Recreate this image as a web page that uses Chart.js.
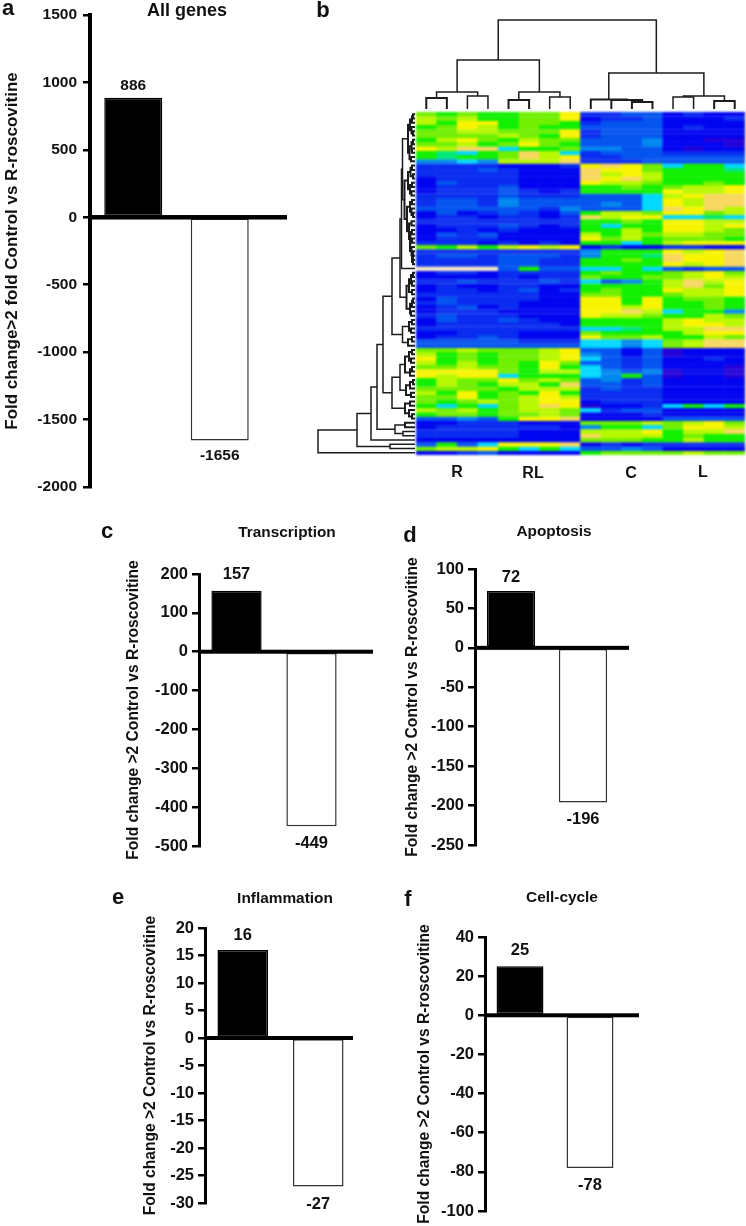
<!DOCTYPE html>
<html>
<head>
<meta charset="utf-8">
<title>Fold change panels</title>
<script src="https://cdn.jsdelivr.net/npm/chart.js@4"></script>
<style>
    html, body { margin: 0; background: #fff; }
    body { position: relative; width: 746px; height: 1226px; overflow: hidden; font-family: "Liberation Sans", Arial, sans-serif; color: #111; }
    canvas { position: absolute; filter: blur(0.4px); }
    canvas.heat { filter: blur(0.9px); }
    .txt { position: absolute; font-weight: bold; white-space: nowrap; transform: translate(-50%, -50%); filter: blur(0.3px); }
    .letter { font-size: 22px; }
    .title { font-size: 15.4px; }
    .group { font-size: 16px; }
</style>
</head>
<body>
<div class="txt letter" style="left:8px;top:8px">a</div>
<div class="txt letter" style="left:323px;top:10px">b</div>
<div class="txt letter" style="left:107px;top:531px">c</div>
<div class="txt letter" style="left:410px;top:535px">d</div>
<div class="txt letter" style="left:118px;top:897px">e</div>
<div class="txt letter" style="left:408px;top:899px">f</div>
<div class="txt title" style="left:187px;top:10px;font-size:18px">All genes</div>
<div class="txt title" style="left:287px;top:532px">Transcription</div>
<div class="txt title" style="left:554px;top:531px">Apoptosis</div>
<div class="txt title" style="left:285px;top:898px">Inflammation</div>
<div class="txt title" style="left:562px;top:897px">Cell-cycle</div>
<div class="txt group" style="left:457px;top:472px">R</div>
<div class="txt group" style="left:533px;top:473px">RL</div>
<div class="txt group" style="left:631px;top:473px">C</div>
<div class="txt group" style="left:703px;top:472px">L</div>

<script>
const directions = ["Up", "Down"];
const allGenes = [886, -1656];
const transcription = [157, -449];
const apoptosis = [72, -196];
const inflammation = [16, -27];
const cellCycle = [25, -78];

const titleAll = "Fold change>2 fold Control vs R-roscovitine";
const titleSets = "Fold change >2 Control vs R-roscovitine";

// heatmap samples and rows, one character per cell (index into heatColors)
const samples = ["R1","R2","R3","R4","RL1","RL2","RL3","RL4","C1","C2","C3","C4","L1","L2","L3","L4"];
const heatColors = {
    "0": "#2400d8", "1": "#0004f0", "2": "#0a2cf0", "3": "#0454f0", "4": "#0088f0",
    "5": "#00d8ff", "6": "#00e878", "7": "#10f000", "8": "#70f000", "9": "#b8f800",
    "a": "#f8f400", "b": "#f8d860", "c": "#f8ecc8"
};
const heatRows = [
    "8787788a22331211", "9897788a12231112", "97aa788723331111", "78a9787733331211",
    "8899888a23331111", "8888987a23331111", "79a8798833341100", "88978a8733341110",
    "a9bb577844331011", "76578b9523332222", "76778b9a22333333", "4454999b22233333",
    "22221112aba85775", "22232111baa87776", "22222111b9a97777", "12222111bab97777",
    "13222111a9987787", "122231117787899a", "122232127777a99a", "2222322233359abb",
    "233243333335a9bb", "233243333435a9bb", "333333243335bab9", "131232137998aa89",
    "12212212b9aa5565", "222222227787aa99", "122232127577aa9a", "112121117797aa98",
    "1323111197989988", "12221111a8978887", "2221212177579aaa", "87979a9a12112211",
    "222222224777a9ab", "233233324776baab", "222233227787baab", "222233227777a9ab",
    "cccc373355753233", "12212222787789a8", "11112122877889a9", "2232223253479b9a",
    "1211221177779b8a", "122123127877a99a", "222222118877899a", "13222211aa7a7887",
    "23222111aa7a7787", "12312111aa9a7787", "12221111aab95774", "23222111a9987798",
    "1322321177779a99", "1222222177779aa9", "22222222556799bb", "11222111877779aa",
    "12232111a8897798", "33333222554589bb", "33333333554589bb", "8898889a33130111",
    "9787889a43130111", "a787889a53231121", "979787a833231111", "889887a753231110",
    "aaaa879954340110", "a9aa577754730110", "7988a89834231111", "7987997b33231111",
    "8888799923221111", "97a787a722221111", "88a789a922221111", "878989aa12221111",
    "757589ba01125757", "9897899852331111", "7887889811121111", "33437aab11113333",
    "11222111888989a8", "1222222147758aa9", "22222111999a799b", "22222111b9997877",
    "1111111188877977", "3735aaab12122222", "899a757533431111", "1123111178888988"
];

// top dendrogram: merge of two columns or clusters, heights in pixels above the leaves
const sampleTree = [89,
    [49, [17, [11, 0, 1], [13, 2, 3]], [17, [9, 4, 5], [12, 6, 7]]],
    [36, [9.5, 8, [9, 9, [7, 10, 11]]], [13, [12, 12, 13], [8, 14, 15]]]
];

// left dendrogram: merges of rows, heights in pixels left of the leaves
const rowTreeTop = [12.5,
    [7, [5, [3, [2, 0, 1], 2], [3.5, 3, [2, 4, 5]]], [5.5, [3.5, [2, 6, 7], [3, 8, 9]], [4, 10, 11]]],
    [10.5, [7, [4.5, [3, 12, 13], [2, 14, 15]], [5, [3, 16, 17], [3.5, 18, 19]]],
         [8, [5, [3, 20, 21], [3.5, 22, [2, 23, 24]]], [6, [3.5, 25, 26], [4.5, [3, 27, 28], [5, [3, 29, 30], [3.5, 31, [2, 32, [3, 33, [2, 34, 35]]]]]]]]]
];
const rowTreeZ = [8.5, [6, [4, [2, 37, 38], [3, 39, 40]], [3, 41, 42]], [5, [3, [2, 43, 44], 45], [4, 46, 47]]];
const rowTreeV = [12.5, [6, [3, 48, 49], [4, 50, 51]], [7, [3, 52, 53], 54]];
const rowTreeL = [23,
    [15, [10, [6, [3, 55, 56], [4, 57, 58]], [5, [3, 59, 60], 61]], [9, [5, [2, 62, 63], 64], [4, 65, 66]]],
    [10, [5, 67, 68], [6, 69, [3, 70, 71]]]
];
const rowTree = [97,
    [58, [44, [38, [32, [23, [15, [13.5, rowTreeTop, 36], rowTreeZ], rowTreeV], rowTreeL], [20, [10, 72, 73], [12, 74, 75]]], 76], [25, 77, 78]],
    79
];

Chart.defaults.font.family = '"Liberation Sans", Arial, sans-serif';
Chart.defaults.font.weight = "bold";
Chart.defaults.color = "#111";
Chart.defaults.animation = false;

function placeCanvas(left, top, width, height) {
    const canvas = document.createElement("canvas");
    canvas.width = width;
    canvas.height = height;
    canvas.style.left = left + "px";
    canvas.style.top = top + "px";
    canvas.style.width = width + "px";
    canvas.style.height = height + "px";
    document.body.appendChild(canvas);
    return canvas;
}

// long zero line that runs past the bars, and the count next to each bar
const barExtras = {
    id: "barExtras",
    afterDatasetsDraw(chart, args, opts) {
        const ctx = chart.ctx;
        const y0 = chart.scales.y.getPixelForValue(0);
        ctx.save();
        ctx.fillStyle = "#000";
        ctx.fillRect(chart.chartArea.left, y0 - opts.lineWidth / 2, opts.lineLength, opts.lineWidth);
        ctx.font = "bold " + opts.fontSize + "px 'Liberation Sans', Arial, sans-serif";
        ctx.textAlign = "center";
        ctx.textBaseline = "middle";
        ctx.fillStyle = "#111";
        chart.getDatasetMeta(0).data.forEach((bar, i) => {
            const value = chart.data.datasets[0].data[i];
            const gap = value > 0 ? -opts.gapUp : opts.gapDown;
            ctx.fillText(String(value), bar.x, bar.y + gap);
        });
        ctx.restore();
    }
};

function drawBarPanel(p) {
    const canvasTop = p.top - 20;
    const height = p.bottom - p.top + 40;
    const canvas = placeCanvas(p.canvasLeft, canvasTop, p.canvasWidth, height);
    new Chart(canvas, {
        type: "bar",
        data: {
            labels: directions,
            datasets: [{
                data: p.values,
                backgroundColor: ["#000", "#fff"],
                borderColor: ["#000", "#333"],
                borderWidth: 1.5,
                borderSkipped: false,
                categoryPercentage: 1,
                barPercentage: 0.67
            }]
        },
        options: {
            responsive: false,
            layout: { padding: { top: 20, bottom: 20, left: 0, right: p.canvasWidth - (p.axisX - p.canvasLeft) - 2 * p.step } },
            plugins: {
                legend: { display: false },
                tooltip: { enabled: false },
                barExtras: { lineLength: p.lineLength, lineWidth: p.lineWidth, fontSize: p.valueSize, gapUp: p.gapUp, gapDown: p.gapDown }
            },
            scales: {
                x: { display: false },
                y: {
                    min: p.min,
                    max: p.max,
                    ticks: { stepSize: p.stepSize, padding: p.tickPad, font: { size: p.tickSize }, callback: v => String(v) },
                    grid: { drawOnChartArea: false, tickLength: 7, lineWidth: 2.5, tickWidth: 2.5, tickColor: "#000" },
                    border: { color: "#000", width: p.axisWidth },
                    title: { display: true, text: p.title, font: { size: p.titleSize }, padding: 0, color: "#111" },
                    afterFit(scale) { scale.width = p.axisX - p.canvasLeft; }
                }
            }
        },
        plugins: [barExtras]
    });
}

drawBarPanel({ values: allGenes, title: titleAll, titleSize: 17, tickSize: 15.5, valueSize: 15.5, tickPad: 6, canvasLeft: 2, canvasWidth: 305,
    axisX: 90, step: 86.5, top: 15, bottom: 487, min: -2000, max: 1500, stepSize: 500,
    lineLength: 197, lineWidth: 4.5, axisWidth: 4, gapUp: 12, gapDown: 15 });
drawBarPanel({ values: transcription, title: titleSets, titleSize: 15.6, tickSize: 16.5, valueSize: 16.5, tickPad: 4, canvasLeft: 124, canvasWidth: 265,
    axisX: 199, step: 75, top: 574, bottom: 846, min: -500, max: 200, stepSize: 100,
    lineLength: 174, lineWidth: 4, axisWidth: 3, gapUp: 16, gapDown: 17 });
drawBarPanel({ values: apoptosis, title: titleSets, titleSize: 15.6, tickSize: 16.5, valueSize: 16.5, tickPad: 4, canvasLeft: 403, canvasWidth: 240,
    axisX: 475, step: 72, top: 569, bottom: 845, min: -250, max: 100, stepSize: 50,
    lineLength: 154, lineWidth: 4, axisWidth: 3, gapUp: 14, gapDown: 17 });
drawBarPanel({ values: inflammation, title: titleSets, titleSize: 15.6, tickSize: 16.5, valueSize: 16.5, tickPad: 4, canvasLeft: 141, canvasWidth: 225,
    axisX: 205, step: 75.5, top: 928, bottom: 1203, min: -30, max: 20, stepSize: 5,
    lineLength: 148, lineWidth: 4, axisWidth: 3, gapUp: 15, gapDown: 18 });
drawBarPanel({ values: cellCycle, title: titleSets, titleSize: 15.6, tickSize: 16.5, valueSize: 16.5, tickPad: 4, canvasLeft: 415, canvasWidth: 235,
    axisX: 485, step: 70, top: 937, bottom: 1211, min: -100, max: 40, stepSize: 20,
    lineLength: 154, lineWidth: 4, axisWidth: 3, gapUp: 16, gapDown: 18 });

// heatmap: 16 column categories, one stacked dataset per row
const heatCanvas = placeCanvas(416, 112, 329, 343);
heatCanvas.className = "heat";
new Chart(heatCanvas, {
    type: "bar",
    data: {
        labels: samples,
        datasets: heatRows.map(row => ({
            data: samples.map(() => 1),
            backgroundColor: row.split("").map(c => heatColors[c]),
            borderColor: row.split("").map(c => heatColors[c]),
            borderWidth: 0.5,
            categoryPercentage: 1,
            barPercentage: 1,
            stack: "rows"
        }))
    },
    options: {
        responsive: false,
        plugins: { legend: { display: false }, tooltip: { enabled: false } },
        scales: {
            x: { display: false, stacked: true },
            y: { display: false, stacked: true, min: 0, max: heatRows.length, reverse: true }
        }
    }
});

// turn a nested [height, childA, childB] tree into line datasets, leaves are numbers
function treeLines(node, out, toPoint) {
    if (typeof node === "number") return { pos: node, h: 0 };
    const a = treeLines(node[1], out, toPoint);
    const b = treeLines(node[2], out, toPoint);
    out.push({
        data: [toPoint(a.pos, a.h), toPoint(a.pos, node[0]), toPoint(b.pos, node[0]), toPoint(b.pos, b.h)],
        showLine: true,
        borderColor: "#1c1c1c",
        borderWidth: node[0] < 12 ? 2 : 1.5,
        pointRadius: 0,
        tension: 0
    });
    return { pos: (a.pos + b.pos) / 2, h: node[0] };
}

const sampleLines = [];
treeLines(sampleTree, sampleLines, (pos, h) => ({ x: pos, y: h }));
new Chart(placeCanvas(416, 0, 329, 112), {
    type: "scatter",
    data: { datasets: sampleLines },
    options: {
        responsive: false,
        plugins: { legend: { display: false }, tooltip: { enabled: false } },
        scales: {
            x: { display: false, min: -0.5, max: 15.5 },
            y: { display: false, min: -3, max: 109 }
        }
    }
});

const rowLines = [];
treeLines(rowTree, rowLines, (pos, h) => ({ x: h, y: pos }));
new Chart(placeCanvas(315, 112, 100, 343), {
    type: "scatter",
    data: { datasets: rowLines },
    options: {
        responsive: false,
        plugins: { legend: { display: false }, tooltip: { enabled: false } },
        scales: {
            x: { display: false, min: 0, max: 100, reverse: true },
            y: { display: false, min: -0.5, max: 79.5, reverse: true }
        }
    }
});
</script>
</body>
</html>
